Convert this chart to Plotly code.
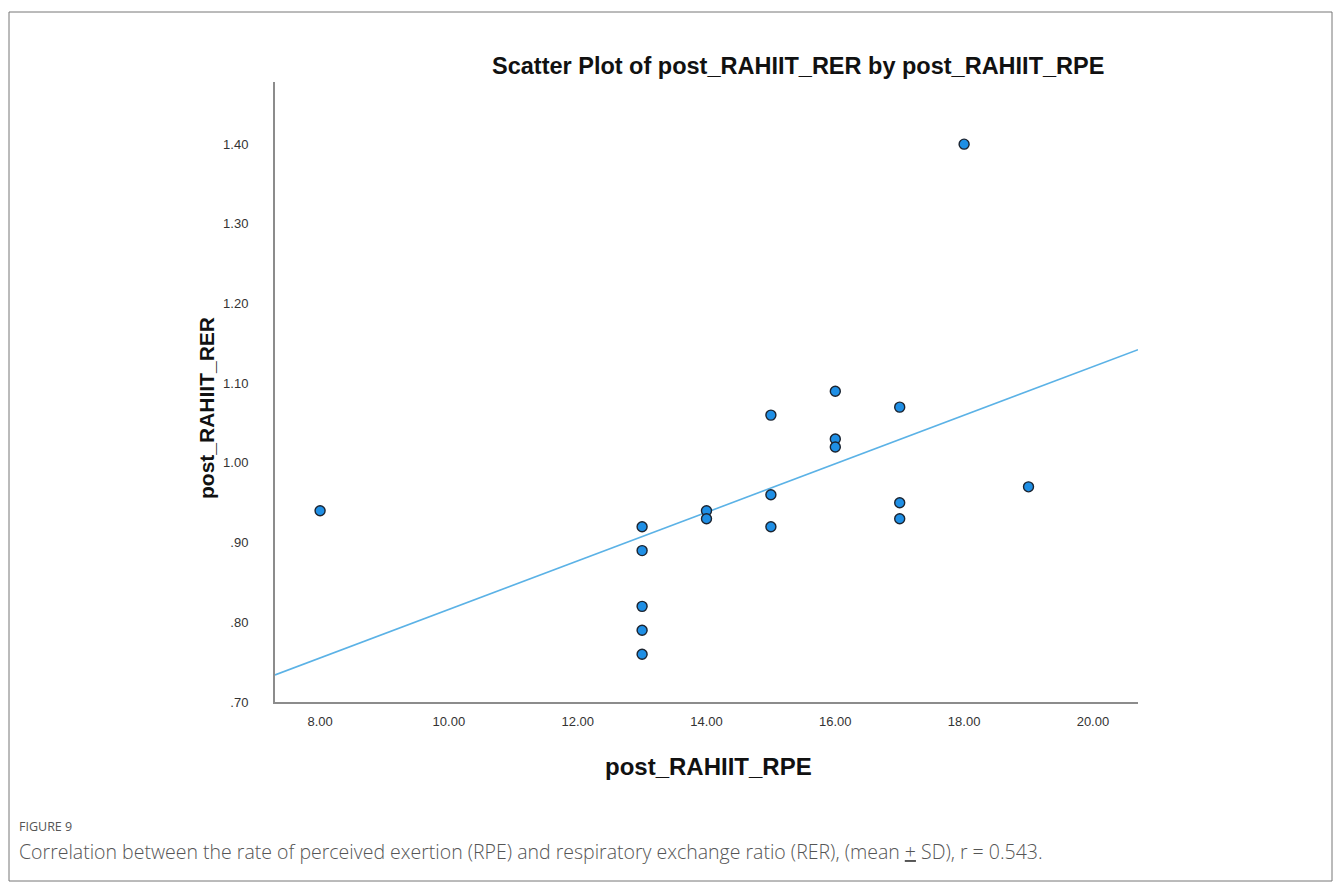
import plotly.graph_objects as go

# ---- data ----
rpe = [8, 13, 13, 13, 13, 13, 14, 14, 15, 15, 15, 16, 16, 16, 17, 17, 17, 18, 19]
rer = [0.94, 0.92, 0.89, 0.82, 0.79, 0.76, 0.94, 0.93, 1.06, 0.96, 0.92,
       1.09, 1.03, 1.02, 1.07, 0.95, 0.93, 1.40, 0.97]

fit_x = [7.3, 20.7]
fit_y = [0.734, 1.142]

x_tickvals = [8, 10, 12, 14, 16, 18, 20]
x_ticktext = ["8.00", "10.00", "12.00", "14.00", "16.00", "18.00", "20.00"]
y_tickvals = [0.70, 0.80, 0.90, 1.00, 1.10, 1.20, 1.30, 1.40]
y_ticktext = [".70", ".80", ".90", "1.00", "1.10", "1.20", "1.30", "1.40"]

title_text = "Scatter Plot of post_RAHIIT_RER by post_RAHIIT_RPE"
x_title = "post_RAHIIT_RPE"
y_title = "post_RAHIIT_RER"
fig_label = "FIGURE 9"
caption = ("Correlation between the rate of perceived exertion (RPE) and respiratory "
           "exchange ratio (RER), (mean <u>+</u> SD), r = 0.543.")

# ---- layout geometry (pixels) ----
W, H = 1335, 882
L, R, T, B = 275, 1138, 82, 702


def px(xp):
    return (xp - L) / (R - L)


def py(yp):
    return (B - yp) / (B - T)


fig = go.Figure()
fig.add_trace(go.Scatter(x=fit_x, y=fit_y, mode="lines",
                         line=dict(color="#5BB2E6", width=1.6),
                         hoverinfo="skip", showlegend=False))
fig.add_trace(go.Scatter(x=rpe, y=rer, mode="markers",
                         marker=dict(size=10, color="#1F8FE5",
                                     line=dict(color="#1c2430", width=1.4)),
                         showlegend=False))

axis_font = dict(family="Liberation Sans, Arial, sans-serif", size=13, color="#333333")

fig.update_layout(
    width=W, height=H,
    margin=dict(l=L, r=W - R, t=T, b=H - B),
    paper_bgcolor="white", plot_bgcolor="white",
    xaxis=dict(range=[7.3, 20.7], tickvals=x_tickvals, ticktext=x_ticktext,
               showgrid=False, zeroline=False, showline=True,
               linecolor="#8c8c8c", linewidth=2, ticks="", tickfont=axis_font,
               ticklabelstandoff=6),
    yaxis=dict(range=[0.70, 1.478], tickvals=y_tickvals, ticktext=y_ticktext,
               showgrid=False, zeroline=False, showline=True,
               linecolor="#8c8c8c", linewidth=2, ticks="", tickfont=axis_font,
               ticklabelstandoff=22),
    shapes=[dict(type="rect", xref="paper", yref="paper",
                 x0=px(9), x1=px(1332), y0=py(12), y1=py(881),
                 line=dict(color="#777777", width=1), fillcolor="rgba(0,0,0,0)",
                 layer="below")],
    annotations=[
        dict(text=title_text, xref="paper", yref="paper", x=px(798), y=py(66),
             xanchor="center", yanchor="middle", showarrow=False,
             font=dict(family="Liberation Sans, Arial, sans-serif", size=23.5,
                       color="#111111", weight="bold")),
        dict(text=x_title, xref="paper", yref="paper", x=px(708), y=py(767),
             xanchor="center", yanchor="middle", showarrow=False,
             font=dict(family="Liberation Sans, Arial, sans-serif", size=24,
                       color="#111111", weight="bold")),
        dict(text=y_title, xref="paper", yref="paper", x=px(206), y=py(408),
             xanchor="center", yanchor="middle", showarrow=False, textangle=-90,
             font=dict(family="Liberation Sans, Arial, sans-serif", size=21,
                       color="#111111", weight="bold")),
        dict(text=fig_label, xref="paper", yref="paper", x=px(17), y=py(826),
             xanchor="left", yanchor="middle", showarrow=False,
             font=dict(family="Open Sans, sans-serif", size=12.5, color="#555555")),
        dict(text=caption, xref="paper", yref="paper", x=px(17), y=py(851),
             xanchor="left", yanchor="middle", showarrow=False,
             font=dict(family="Open Sans, sans-serif", size=19.5, color="#555555",
                       weight=300)),
    ],
)

fig.write_html("out.html", config={"displayModeBar": False},
               post_script="document.body.style.margin='0';document.body.style.overflow='hidden';")
